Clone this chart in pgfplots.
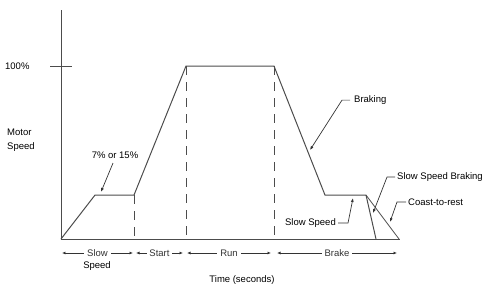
\documentclass[border=0pt]{standalone}
\usepackage{fontspec}
\setmainfont{Liberation Sans}
\usepackage{pgfplots}
\pgfplotsset{compat=1.18}
\usetikzlibrary{arrows.meta}
\begin{document}
\begin{tikzpicture}[font=\fontsize{9.5bp}{11bp}\selectfont]
\useasboundingbox (-61bp,-47bp) rectangle (421bp,239bp);
\begin{axis}[
 at={(0,0)}, anchor=south west,
 scale only axis, width=339bp, height=229bp,
 xmin=0, xmax=33.9, ymin=0, ymax=132.4,
 axis x line=bottom, axis y line=left,
 axis line style={-, black!70, line width=1pt},
 xtick=\empty, ytick={100}, yticklabels={},
 major tick length=21bp, tick align=center,
 tick style={black!70, line width=1pt},
 clip=false,
]
% speed profile (time units, % speed)
\addplot[black!70, line width=1pt] coordinates {(0,0)(3.4,25.4)(7.3,25.4)(12.5,100)(21.3,100)(26.4,25.4)(30.5,25.4)(31.5,0)};
% coast-to-rest
\addplot[black!70, line width=0.8pt] coordinates {(30.5,25.4)(33.8,0)};
% dashed phase boundaries
\addplot[black!70, line width=1pt, dash pattern=on 9bp off 7bp] coordinates {(7.3,25.4)(7.3,0)};
\addplot[black!70, line width=1pt, dash pattern=on 9bp off 7bp] coordinates {(12.5,100)(12.5,0)};
\addplot[black!70, line width=1pt, dash pattern=on 9bp off 7bp] coordinates {(21.3,100)(21.3,0)};

\tikzset{lead/.style={-{Latex[length=4bp,width=3bp]}, black!80, line width=0.7pt},
         dim/.style={{Latex[length=3.5bp,width=3bp]}-{Latex[length=3.5bp,width=3bp]}, black!80, line width=0.7pt}}

\node[anchor=east] at (axis cs:-2.8,100) {100\%};
\node[anchor=west, align=left, inner sep=0pt, font=\fontsize{9.5bp}{14bp}\selectfont] at (axis cs:-5.4,57.2) {Motor\\Speed};

\node at (axis cs:5.4,48.6) {7\% or 15\%};
\draw[lead] (axis cs:5.2,43.9) -- (axis cs:4.0,27.2);

\node[anchor=west, inner sep=0pt] at (axis cs:29.3,80.3) {Braking};
\draw[lead] (axis cs:28.9,80.3) -- (axis cs:28.1,80.3) -- (axis cs:24.9,51.4);

\node[anchor=east, inner sep=0pt] at (axis cs:27.5,9.2) {Slow Speed};
\draw[lead] (axis cs:27.7,9.2) -- (axis cs:28.7,9.2) -- (axis cs:29.2,23.7);

\node[anchor=west, inner sep=0pt] at (axis cs:33.6,35.8) {Slow Speed Braking};
\draw[lead] (axis cs:33.4,35.8) -- (axis cs:32.6,35.8) -- (axis cs:31.2,15.0);

\node[anchor=west, inner sep=0pt] at (axis cs:34.7,21.4) {Coast-to-rest};
\draw[lead] (axis cs:34.5,21.4) -- (axis cs:33.6,21.4) -- (axis cs:32.9,9.8);

% phase dimension arrows
\draw[dim] (axis cs:0.1,-8.1) -- (axis cs:7.2,-8.1) node[midway, fill=white, inner xsep=3bp, inner ysep=1bp]{Slow};
\node at (axis cs:3.6,-15.6) {Speed};
\draw[dim] (axis cs:7.5,-8.1) -- (axis cs:12.2,-8.1) node[midway, fill=white, inner xsep=2bp, inner ysep=1bp]{Start};
\draw[dim] (axis cs:12.6,-8.1) -- (axis cs:21.0,-8.1) node[midway, fill=white, inner xsep=3bp, inner ysep=1bp]{Run};
\draw[dim] (axis cs:21.6,-8.1) -- (axis cs:33.6,-8.1) node[midway, fill=white, inner xsep=3bp, inner ysep=1bp]{Brake};

\node at (axis cs:18.1,-23.7) {Time (seconds)};
\end{axis}
\end{tikzpicture}
\end{document}
